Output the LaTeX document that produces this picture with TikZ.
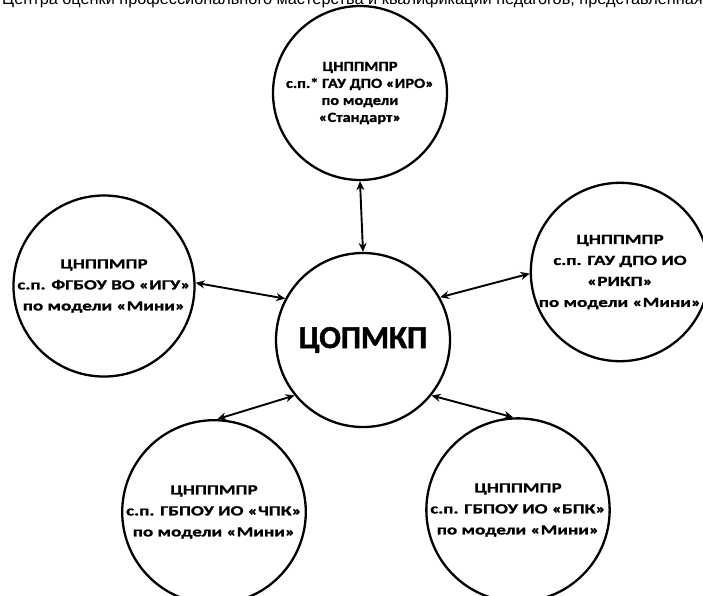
\documentclass[tikz,border=0pt]{standalone}
\usepackage{fontspec}
\setmainfont{Carlito}
\newfontfamily\hdrfont{Liberation Sans}
\newfontfamily\lblfont{Carlito}[UprightFont=* Bold, FakeStretch=1.36, FakeBold=1.2]
\newfontfamily\toplblfont{Carlito}[UprightFont=* Bold, FakeStretch=1.17, FakeBold=1.2]
\newfontfamily\hubfont{Carlito}[UprightFont=* Bold, FakeBold=1.5]
\usetikzlibrary{arrows.meta}
\tikzset{
  unit/.style={circle, draw, line width=2.3pt, minimum size=174pt, inner sep=0pt, align=center,
    font=\lblfont\fontsize{14}{21}\selectfont},
  hub/.style={circle, draw, line width=2.3pt, minimum size=174pt, inner sep=0pt,
    font=\hubfont\fontsize{32}{36}\selectfont},
  link/.style={line width=1.9pt, {Stealth[length=9pt,width=8pt]}-{Stealth[length=9pt,width=8pt]}},
  hdr/.style={anchor=base west, inner sep=0pt, font=\hdrfont\fontsize{16.3}{17}\selectfont}
}
\begin{document}
\begin{tikzpicture}[x=1pt,y=-1pt]
\useasboundingbox (0,0) rectangle (703,595);
\begin{scope}
\clip (0,0) rectangle (703,595);
\node[hdr] (h) at (2,4.5) {Центра оценки профессионального мастерства и квалификации педагогов, представленная};
\node[hub] (c) at (363,340) {ЦОПМКП};
\node[unit, font=\toplblfont\fontsize{14}{17}\selectfont] (t) at (360,93) {ЦНППМПР\\с.п.* ГАУ ДПО «ИРО»\\по модели\\«Стандарт»};
\node[unit] (l) at (104,286) {ЦНППМПР\\с.п. ФГБОУ ВО «ИГУ»\\по модели «Мини»};
\node[unit] (r) at (620,272) {ЦНППМПР\\с.п. ГАУ ДПО ИО\\«РИКП»\\по модели «Мини»};
\node[unit] (bl) at (214,512) {ЦНППМПР\\с.п. ГБПОУ ИО «ЧПК»\\по модели «Мини»};
\node[unit] (br) at (518,510) {ЦНППМПР\\с.п. ГБПОУ ИО «БПК»\\по модели «Мини»};
\end{scope}
\draw[link] (t.-90) -- (c.90);
\draw[link] (l.2) -- (c.152);
\draw[link] (c.29) -- (r.181);
\draw[link] (c.219.5) -- (bl.88);
\draw[link] (c.321) -- (br.93);
\end{tikzpicture}
\end{document}
